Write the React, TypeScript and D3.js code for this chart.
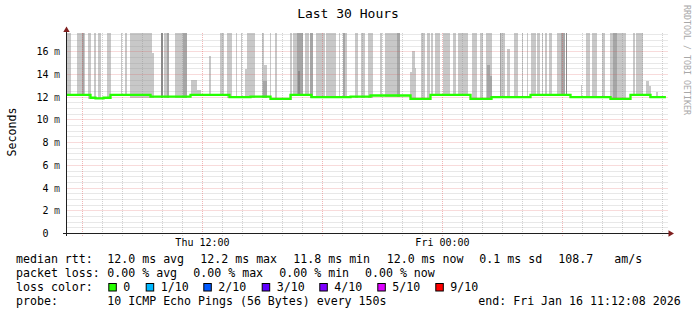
import React from "react";
import * as d3 from "d3";

// ---------- data ----------
const title = "Last 30 Hours";
const yAxisTitle = "Seconds";
const credit = "RRDTOOL / TOBI OETIKER";
const startTime = new Date(2026, 0, 15, 5, 12, 8);
const endTime = new Date(2026, 0, 16, 11, 12, 8);
const yMaxMs = 17.65;
const yTickValues = [0, 2, 4, 6, 8, 10, 12, 14, 16];
const yTickLabels = ["0", "2 m", "4 m", "6 m", "8 m", "10 m", "12 m", "14 m", "16 m"];

// median rtt (hours after start, ms) — step series
const medianHours = [0, 1.2, 1.45, 1.85, 2.2, 4.2, 6.2, 8.15, 9.2, 10.2, 11.2, 12.25, 14.2, 15.2, 17.2, 18.2, 20.2, 21.25, 23.2, 25.2, 27.2, 28.2, 29.2, 29.97];
const medianMs = [12.2, 11.95, 11.9, 11.95, 12.2, 12.05, 12.2, 12.0, 12.05, 11.85, 12.2, 12.0, 12.05, 12.15, 11.85, 12.2, 11.85, 12.0, 12.2, 12.0, 11.85, 12.2, 12.0, 12.0];

// smoke: [start hour, end hour, top ms]  (values above the chart top are clipped)
const smokeOuter: [number, number, number][] = [
  [0.0, 0.24, 20], [0.54, 0.9, 20], [1.05, 1.24, 20], [1.38, 1.49, 20], [1.55, 1.74, 20],
  [2.0, 2.24, 20], [2.73, 2.78, 20], [2.93, 3.0, 20], [3.15, 4.28, 20], [4.28, 4.38, 15.9],
  [4.88, 5.03, 20], [5.4, 6.0, 20], [6.23, 6.5, 13.5], [6.5, 6.7, 12.6], [7.1, 7.23, 15.6],
  [7.65, 7.87, 20], [8.04, 8.27, 20], [8.49, 8.54, 20], [8.7, 8.77, 20], [8.9, 9.03, 14.5],
  [9.03, 9.4, 20], [9.78, 9.85, 20], [9.85, 10.0, 14.8], [10.15, 10.24, 20], [10.4, 10.54, 20],
  [11.15, 11.27, 20], [11.32, 11.5, 20], [11.9, 12.1, 20], [12.49, 12.9, 20], [12.99, 13.49, 20],
  [13.6, 13.65, 20], [13.82, 14.04, 20], [14.4, 14.57, 20], [14.74, 14.94, 20], [15.07, 15.32, 20],
  [15.65, 15.77, 20], [15.9, 16.52, 20], [17.15, 17.27, 14.2], [17.27, 17.4, 16.1], [17.4, 17.49, 14.6],
  [17.74, 17.9, 20], [18.0, 18.15, 20], [18.24, 18.32, 20], [18.4, 18.65, 20], [18.82, 19.15, 20],
  [19.32, 19.49, 20], [19.57, 20.07, 20], [20.25, 20.54, 20], [20.65, 20.82, 20], [20.99, 21.29, 20],
  [21.74, 21.9, 20], [22.04, 22.15, 16.2], [22.37, 22.57, 20], [22.75, 22.84, 20], [23.0, 23.07, 20],
  [23.24, 23.45, 20], [23.54, 23.65, 20], [23.75, 23.8, 20], [23.9, 24.04, 20], [24.12, 24.27, 20],
  [24.54, 24.7, 20], [25.74, 25.79, 13.1], [25.99, 26.17, 20], [26.29, 26.54, 20], [26.78, 26.93, 20],
  [27.17, 27.34, 20], [27.54, 27.75, 20], [27.79, 27.99, 20], [28.32, 28.44, 20], [28.49, 28.82, 20],
  [28.99, 29.12, 13.4], [29.12, 29.24, 13.0], [29.45, 29.57, 12.5],
];
const smokeMiddle: [number, number, number][] = [
  [0.79, 0.88, 20], [5.03, 5.13, 20], [5.8, 6.0, 20], [9.8, 10.0, 13.4], [11.5, 11.8, 20],
  [12.15, 12.32, 20], [13.82, 13.9, 20], [16.52, 16.65, 20], [21.04, 21.15, 14.8], [21.15, 21.25, 13.9],
  [21.65, 21.74, 20], [24.7, 24.9, 20], [27.34, 27.54, 20],
];
const smokeInner: [number, number, number][] = [
  [4.73, 4.8, 20], [11.55, 11.65, 14.3], [24.99, 25.04, 20],
];

const rttLegendLabel = "median rtt:";
const rttLegendItems = ["12.0 ms avg", "12.2 ms max", "11.8 ms min", "12.0 ms now", "0.1 ms sd", "108.7", "am/s"];
const lossLegendLabel = "packet loss:";
const lossLegendItems = ["0.00 % avg", "0.00 % max", "0.00 % min", "0.00 % now"];
const lossColorLabel = "loss color:";
const lossColorNames = ["0", "1/10", "2/10", "3/10", "4/10", "5/10", "9/10"];
const lossColorValues = ["#26ff00", "#00b8ff", "#0059ff", "#5e00ff", "#7e00ff", "#dd00ff", "#ff0000"];
const probeLabel = "probe:";
const probeText = "10 ICMP Echo Pings (56 Bytes) every 150s";

// ---------- layout ----------
const W = 697;
const H = 315;
const PLOT_L = 66.5;
const PLOT_R = 666.5;
const PLOT_B = 233.5;
const PLOT_T = 33;
const MONO = "'DejaVu Sans Mono', monospace";
const rttX = [107.3, 200.3, 293.3, 386.7, 479.3, 558.3, 614.3];
const lossX = [107.3, 193.3, 279.3, 365];
const boxX = [108.3, 145.7, 203.3, 261.7, 319.3, 377.3, 435.3];

export default function App() {
  const hourToDate = (h: number) => new Date(startTime.getTime() + h * 3600e3);
  const x = d3.scaleTime().domain([startTime, endTime]).range([PLOT_L, PLOT_R]);
  const y = d3.scaleLinear().domain([0, yMaxMs]).range([PLOT_B, PLOT_T]);
  const crisp = (v: number) => Math.round(v - 0.5) + 0.5;

  const medianAt = (h: number) => {
    const i = Math.max(0, d3.bisectRight(medianHours, h) - 1);
    return medianMs[i];
  };

  const smokeRects = (bars: [number, number, number][], fill: string, key: string) =>
    bars.map(([h0, h1, top], i) => {
      const x0 = x(hourToDate(h0));
      const x1 = x(hourToDate(h1));
      const bottom = Math.min(medianAt(h0), medianAt(Math.max(h0, h1 - 0.01))) - 0.1;
      const yTop = y(Math.min(top, yMaxMs));
      const yBot = y(bottom);
      return (
        <rect key={key + i} x={x0} y={yTop} width={Math.max(1, x1 - x0)} height={Math.max(0, yBot - yTop)} fill={fill} shapeRendering="crispEdges" />
      );
    });

  const minorY = d3.range(0.5, yMaxMs, 0.5).filter((v) => Math.abs(v / 2 - Math.round(v / 2)) > 1e-6);
  const majorY = yTickValues.filter((v) => v > 0);
  const hourTicks = d3.timeHour.every(1)!.range(startTime, endTime);
  const sixHourTicks = d3.timeHour.every(6)!.range(startTime, endTime);
  const labelTicks = d3.timeHour.every(12)!.range(startTime, endTime);
  const fmt = d3.timeFormat("%a %H:%M");
  const endFmt = d3.timeFormat("%a %b %d %H:%M:%S %Y");
  const isMajor = (d: Date) => sixHourTicks.some((t) => t.getTime() === d.getTime());

  const medianPts: [number, number][] = medianHours.map((h, i) => [x(hourToDate(h)), y(medianMs[i])]);
  const medianPath = d3.line().curve(d3.curveStepAfter)(medianPts) || "";

  const minorColor = "rgba(140,140,140,0.4)";
  const majorColor = "rgba(222,80,80,0.42)";

  return (
    <svg width={W} height={H} style={{ position: "absolute", left: 0, top: 0, background: "#fff" }} fontFamily={MONO}>
      <rect x={0} y={0} width={W} height={H} fill="#fff" />
      <text x={348} y={18} fontSize={13} textAnchor="middle" fill="#000">{title}</text>

      {/* smoke */}
      {smokeRects(smokeOuter, "#c8c8c8", "o")}
      {smokeRects(smokeMiddle, "#a6a6a6", "m")}
      {smokeRects(smokeInner, "#8a8a8a", "i")}

      {/* grid */}
      {minorY.map((v) => (
        <line key={"hy" + v} x1={PLOT_L} x2={PLOT_R + 2} y1={crisp(y(v))} y2={crisp(y(v))} stroke={minorColor} strokeDasharray="1,1" />
      ))}
      {hourTicks.filter((d) => !isMajor(d)).map((d) => (
        <line key={"vx" + d.getTime()} x1={crisp(x(d))} x2={crisp(x(d))} y1={PLOT_T} y2={PLOT_B + 2.5} stroke={minorColor} strokeDasharray="1,1" />
      ))}
      {majorY.map((v) => (
        <line key={"my" + v} x1={PLOT_L} x2={PLOT_R + 2} y1={crisp(y(v))} y2={crisp(y(v))} stroke={majorColor} strokeDasharray="1,1" />
      ))}
      {sixHourTicks.map((d) => (
        <line key={"mx" + d.getTime()} x1={crisp(x(d))} x2={crisp(x(d))} y1={PLOT_T} y2={PLOT_B + 3} stroke={majorColor} strokeDasharray="1,1" />
      ))}

      {/* median */}
      <path d={medianPath} fill="none" stroke="#26ff00" strokeWidth={2.3} />

      {/* axes */}
      <line x1={PLOT_L} x2={PLOT_L} y1={PLOT_B + 2.5} y2={30} stroke="#1f1f1f" strokeWidth={1} />
      <line x1={63} x2={670} y1={PLOT_B} y2={PLOT_B} stroke="#1f1f1f" strokeWidth={1.2} />
      <polygon points={`${PLOT_L},26.5 ${PLOT_L - 3.2},32 ${PLOT_L + 3.2},32`} fill="#7f1f1f" />
      <polygon points={`674,${PLOT_B} 668.5,${PLOT_B - 3.2} 668.5,${PLOT_B + 3.2}`} fill="#7f1f1f" />

      {/* y labels */}
      {yTickValues.map((v, i) => {
        const [num, unit] = yTickLabels[i].split(" ");
        const yy = y(v) + 3.5;
        return (
          <g key={"yl" + v}>
            <text x={48.5} y={yy} fontSize={10} textAnchor="end" fill="#000">{num}</text>
            {unit && <text x={54} y={yy} fontSize={10} fill="#333">{unit}</text>}
          </g>
        );
      })}
      {/* x labels */}
      {labelTicks.map((d) => (
        <text key={"xl" + d.getTime()} x={x(d)} y={246} fontSize={10} textAnchor="middle" fill="#000">{fmt(d)}</text>
      ))}

      <text transform="translate(15.5,132) rotate(-90)" fontSize={11.6} textAnchor="middle" fill="#000">{yAxisTitle}</text>
      <text transform="translate(683.5,5) rotate(90)" fontSize={9} fill="#a8a8a8" textLength={110} lengthAdjust="spacingAndGlyphs">{credit}</text>

      {/* legend */}
      <g fontSize={11.6} fill="#000">
        <text x={16} y={262.7}>{rttLegendLabel}</text>
        {rttLegendItems.map((t, i) => (
          <text key={"r" + i} x={rttX[i]} y={262.7} style={{ whiteSpace: "pre" }}>{t}</text>
        ))}
        <text x={16} y={276.7}>{lossLegendLabel}</text>
        {lossLegendItems.map((t, i) => (
          <text key={"l" + i} x={lossX[i]} y={276.7}>{t}</text>
        ))}
        <text x={16} y={290.7}>{lossColorLabel}</text>
        {lossColorNames.map((t, i) => (
          <g key={"c" + i}>
            <rect x={boxX[i] + 0.5} y={283.5} width={7.5} height={7.5} fill={lossColorValues[i]} stroke="#000" strokeWidth={1} />
            <text x={boxX[i] + 15} y={290.7}>{t}</text>
          </g>
        ))}
        <text x={16} y={304.7}>{probeLabel}</text>
        <text x={107.3} y={304.7}>{probeText}</text>
        <text x={478.3} y={304.7}>{"end: " + endFmt(endTime)}</text>
      </g>
    </svg>
  );
}
